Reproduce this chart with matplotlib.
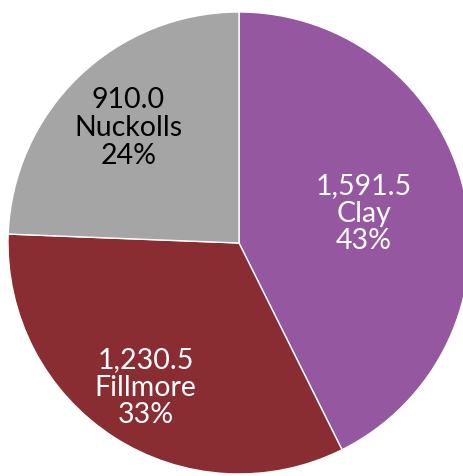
import numpy as np
import matplotlib
matplotlib.use("Agg")
import matplotlib.pyplot as plt

categories = ["Clay", "Fillmore", "Nuckolls"]
values = [1591.5, 1230.5, 910.0]
colors = ["#9558A0", "#8A2D33", "#A5A5A5"]
text_colors = ["white", "white", "black"]
label_dist = [0.555, 0.745, 0.69]

fig = plt.figure(figsize=(4.64, 4.76), dpi=100)
ax = fig.add_axes([0, 0, 1, 1])
R = 231.0
cx, cy = 239.0, 243.0
wedges, _ = ax.pie(values, colors=colors, startangle=90, counterclock=False,
                   radius=1.0, wedgeprops=dict(edgecolor="white", linewidth=1.0))
ax.set_aspect("auto")
ax.set_xlim(-cx / R, (464 - cx) / R)
ax.set_ylim(-(476 - cy) / R, cy / R)

total = sum(values)
for w, v, name, tc, d in zip(wedges, values, categories, text_colors, label_dist):
    ang = np.deg2rad((w.theta1 + w.theta2) / 2)
    x, y = d * np.cos(ang), d * np.sin(ang)
    txt = f"{v:,.1f}\n{name}\n{round(100 * v / total):.0f}%"
    ax.text(x, y, txt, ha="center", va="center", color=tc, fontsize=20.5,
            family=["Lato", "DejaVu Sans"], linespacing=1.08)

fig.savefig("out.png", dpi=100)
